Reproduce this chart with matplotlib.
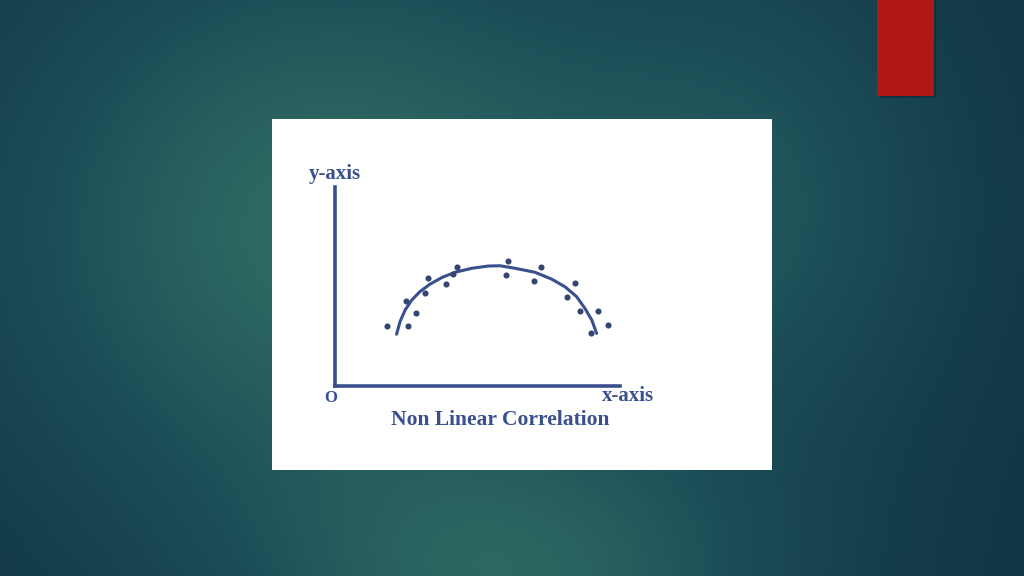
import numpy as np
import matplotlib
matplotlib.use('Agg')
import matplotlib.pyplot as plt
from matplotlib.colors import LinearSegmentedColormap

# puntos dispersos (unidades del grafico, origen en la esquina de los ejes)
pts_x = [1.84, 2.57, 2.83, 2.48, 3.16, 3.27, 3.89, 4.27, 4.15, 6.08,
         5.99, 7.23, 6.99, 8.42, 8.13, 8.60, 9.24, 9.59, 8.98]
pts_y = [2.12, 2.12, 2.56, 3.00, 3.26, 3.81, 3.59, 4.20, 3.93, 4.40,
         3.90, 4.17, 3.70, 3.63, 3.12, 2.65, 2.65, 2.15, 1.87]

# curva
curve_x = [2.16, 2.28, 2.46, 2.69, 2.98, 3.33, 3.74, 4.21, 4.80, 5.38,
           5.79, 6.32, 7.02, 7.60, 8.07, 8.48, 8.77, 9.01, 9.18]
curve_y = [1.82, 2.26, 2.67, 3.02, 3.32, 3.58, 3.81, 4.00, 4.14, 4.22,
           4.23, 4.14, 4.00, 3.76, 3.49, 3.14, 2.73, 2.32, 1.85]

ink = '#3a4f8e'
W, H = 1024, 576

fig = plt.figure(figsize=(10.24, 5.76), dpi=100)

# fondo con degradado
bg = fig.add_axes([0, 0, 1, 1])
yy, xx = np.mgrid[0:H, 0:W]
g = 0.75 * np.exp(-(((xx - 330) / 330.0) ** 2 + ((yy - 230) / 300.0) ** 2))
g += 0.55 * np.exp(-(((xx - 520) / 260.0) ** 2 + ((yy - 590) / 140.0) ** 2))
g += 0.35 * np.exp(-(((xx - 760) / 200.0) ** 2 + ((yy - 200) / 250.0) ** 2))
g = np.clip(g, 0, 1)
cmap = LinearSegmentedColormap.from_list('bg', ['#123847', '#1d4f58', '#2f6b63'])
bg.imshow(g, cmap=cmap, aspect='auto', extent=[0, W, H, 0], interpolation='bilinear')
bg.set_xlim(0, W)
bg.set_ylim(H, 0)
bg.axis('off')

# rectangulo rojo (con una sombra leve)
sh = fig.add_axes([879 / W, 1 - 98 / H, 57 / W, 98 / H])
sh.set_facecolor('#0c2630')
sh.patch.set_alpha(0.5)
sh.set_xticks([])
sh.set_yticks([])
for s in sh.spines.values():
    s.set_visible(False)
red = fig.add_axes([877 / W, 1 - 96 / H, 57 / W, 96 / H])
red.set_facecolor('#b01817')
red.set_xticks([])
red.set_yticks([])
for s in red.spines.values():
    s.set_visible(False)

# recuadro blanco
box = fig.add_axes([272 / W, 1 - 470 / H, 500 / W, 351 / H])
box.set_facecolor('white')
box.set_xticks([])
box.set_yticks([])
for s in box.spines.values():
    s.set_visible(False)

# ejes del grafico
ax = fig.add_axes([335 / W, 1 - 386 / H, 285 / W, 199 / H])
ax.patch.set_alpha(0)
ax.set_xlim(0, 10)
ax.set_ylim(0, 7)
ax.set_xticks([])
ax.set_yticks([])
ax.spines['top'].set_visible(False)
ax.spines['right'].set_visible(False)
ax.spines['left'].set_color(ink)
ax.spines['bottom'].set_color(ink)
ax.spines['left'].set_linewidth(2.6)
ax.spines['bottom'].set_linewidth(2.6)

ax.plot(curve_x, curve_y, color=ink, lw=2.2, solid_capstyle='round')
ax.plot(pts_x, pts_y, 'o', color='#34466f', markersize=4.4, markeredgewidth=0)

#textos
serif = ['Liberation Serif', 'DejaVu Serif']
ax.text(0.0, 1.015, 'y-axis', transform=ax.transAxes, ha='center', va='bottom',
        fontsize=15, fontweight='bold', color=ink, family=serif)
ax.text(-0.014, -0.06, 'O', transform=ax.transAxes, ha='center', va='center',
        fontsize=12, fontweight='bold', color=ink, family=serif)
ax.text(1.028, -0.05, 'x-axis', transform=ax.transAxes, ha='center', va='center',
        fontsize=15, fontweight='bold', color=ink, family=serif)
ax.text(0.579, -0.171, 'Non Linear Correlation', transform=ax.transAxes, ha='center', va='center',
        fontsize=15.5, fontweight='bold', color=ink, family=serif)

fig.savefig('out.png', dpi=100)
